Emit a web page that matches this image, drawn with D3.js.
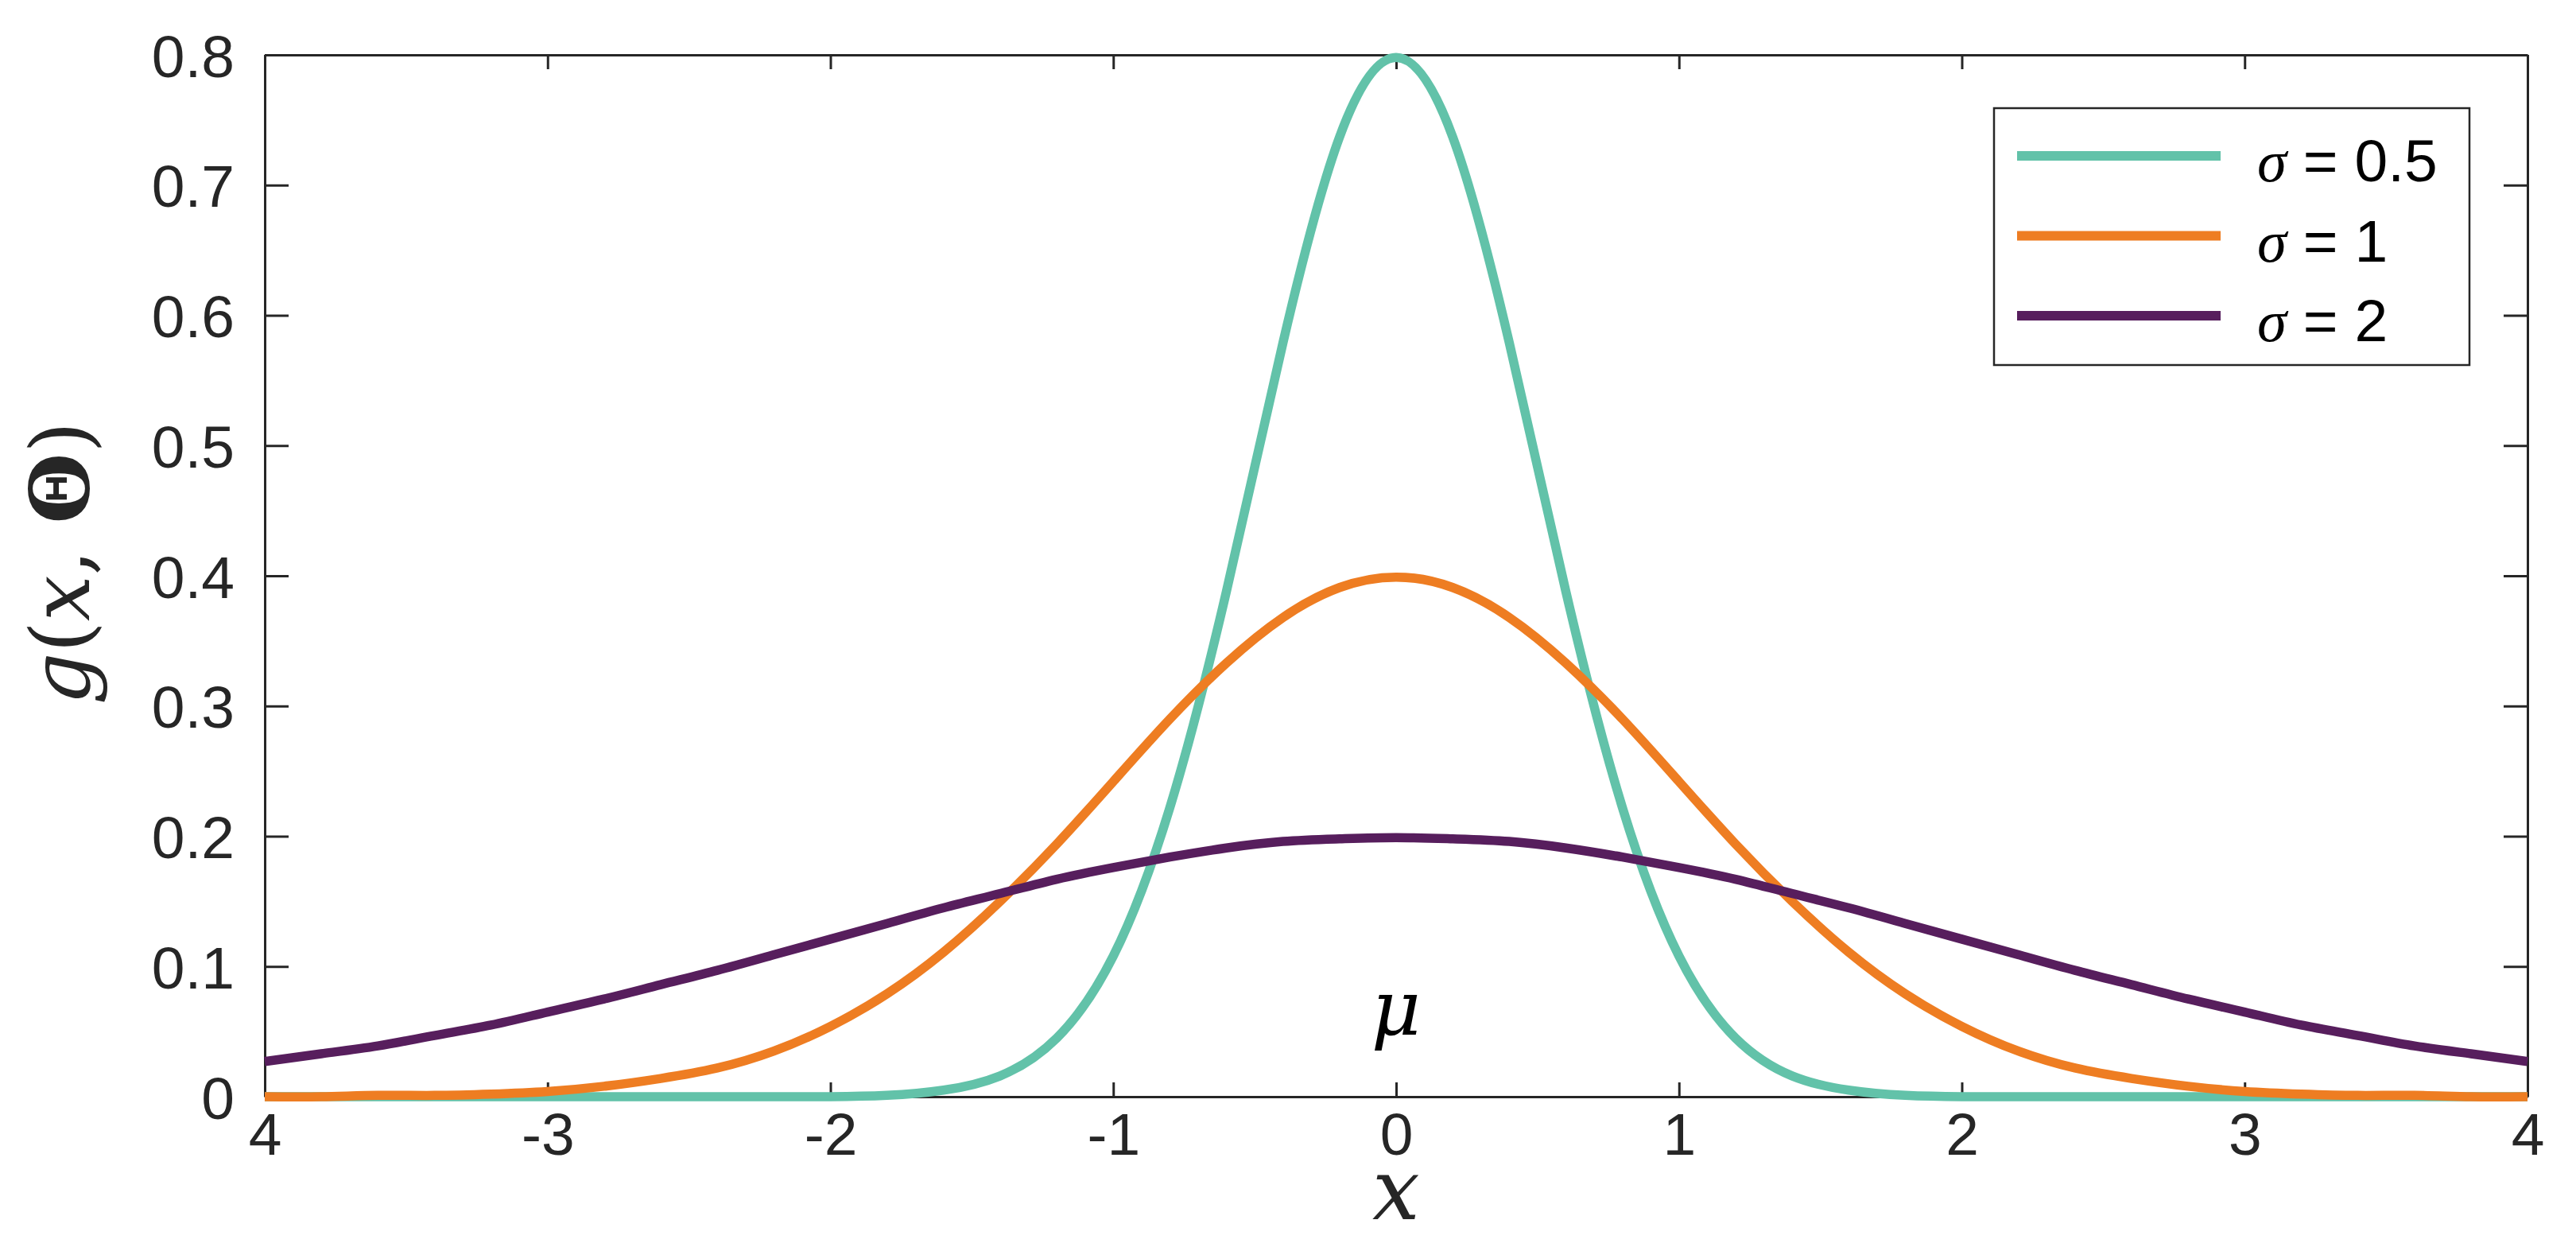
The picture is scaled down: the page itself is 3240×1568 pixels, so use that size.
<!DOCTYPE html>
<html>
<head>
<meta charset="utf-8">
<script src="https://cdn.jsdelivr.net/npm/d3@7"></script>
<style>
  body { margin: 0; background: #fff; }
  svg { display: block; }
</style>
</head>
<body>
<div id="chart"></div>
<script>
let width = 3240
let height = 1568
let margin = {left: 333, right: 61, top: 69, bottom: 189}

const xs = [-4, -3.8, -3.6, -3.4, -3.2, -3, -2.8, -2.6, -2.4, -2.2, -2, -1.8, -1.6, -1.4, -1.2, -1, -0.8, -0.6, -0.4, -0.2,
  0, 0.2, 0.4, 0.6, 0.8, 1, 1.2, 1.4, 1.6, 1.8, 2, 2.2, 2.4, 2.6, 2.8, 3, 3.2, 3.4, 3.6, 3.8, 4]

const sigmaHalf = [0, 0, 0, 0, 0, 0, 0, 0, 0, 0, 0, 0.001, 0.005, 0.016, 0.045, 0.108, 0.222, 0.388, 0.579, 0.737,
  0.798, 0.737, 0.579, 0.388, 0.222, 0.108, 0.045, 0.016, 0.005, 0.001, 0, 0, 0, 0, 0, 0, 0, 0, 0, 0, 0]

const sigmaOne = [0, 0, 0.001, 0.001, 0.002, 0.004, 0.008, 0.014, 0.022, 0.035, 0.054, 0.079, 0.111, 0.150, 0.194, 0.242, 0.290, 0.333, 0.368, 0.391,
  0.399, 0.391, 0.368, 0.333, 0.290, 0.242, 0.194, 0.150, 0.111, 0.079, 0.054, 0.035, 0.022, 0.014, 0.008, 0.004, 0.002, 0.001, 0.001, 0, 0]

const sigmaTwo = [0.027, 0.033, 0.039, 0.047, 0.055, 0.065, 0.075, 0.086, 0.097, 0.109, 0.121, 0.133, 0.145, 0.156, 0.167, 0.176, 0.184, 0.191, 0.196, 0.198,
  0.199, 0.198, 0.196, 0.191, 0.184, 0.176, 0.167, 0.156, 0.145, 0.133, 0.121, 0.109, 0.097, 0.086, 0.075, 0.065, 0.055, 0.047, 0.039, 0.033, 0.027]

const seriesLabels = ['0.5', '1', '2']
const seriesColors = ['#62c2a9', '#ee7d22', '#571e5d']

const xTicks = [-4, -3, -2, -1, 0, 1, 2, 3, 4]
const xTickLabels = ['4', '-3', '-2', '-1', '0', '1', '2', '3', '4']
const yTicks = [0, 0.1, 0.2, 0.3, 0.4, 0.5, 0.6, 0.7, 0.8]
const yTickLabels = ['0', '0.1', '0.2', '0.3', '0.4', '0.5', '0.6', '0.7', '0.8']

const series = [sigmaHalf, sigmaOne, sigmaTwo].map((vals, i) => ({
    label: seriesLabels[i],
    color: seriesColors[i],
    points: xs.map((x, j) => [x, vals[j]])
}))

let axisColor = '#262626'
let tickFont = '"Liberation Sans", Arial, Helvetica, sans-serif'
let mathFont = '"Liberation Serif", "Times New Roman", serif'
let labelFont = '"DejaVu Serif", "Liberation Serif", serif'

let svg = d3.select('#chart')
    .append('svg')
    .attr('width', width)
    .attr('height', height)

let plotW = width - margin.left - margin.right
let plotH = height - margin.top - margin.bottom

let xScale = d3.scaleLinear().domain([-4, 4]).range([0, plotW])
let yScale = d3.scaleLinear().domain([0, 0.8]).range([plotH, 0])

let g = svg.append('g')
    .attr('transform', 'translate(' + margin.left + ',' + margin.top + ')')

// axes (box style, ticks pointing inward)
g.append('g')
    .attr('transform', 'translate(0,' + plotH + ')')
    .call(d3.axisBottom(xScale)
        .tickValues(xTicks)
        .tickFormat((d, i) => xTickLabels[i])
        .tickSizeInner(-18)
        .tickSizeOuter(0)
        .tickPadding(20))

let yAxis = g.append('g')
    .call(d3.axisLeft(yScale)
        .tickValues(yTicks)
        .tickFormat((d, i) => yTickLabels[i])
        .tickSizeInner(-30)
        .tickSizeOuter(0)
        .tickPadding(38))

g.append('g')
    .call(d3.axisTop(xScale)
        .tickValues(xTicks)
        .tickFormat('')
        .tickSizeInner(-18)
        .tickSizeOuter(0))

g.append('g')
    .attr('transform', 'translate(' + plotW + ',0)')
    .call(d3.axisRight(yScale)
        .tickValues(yTicks)
        .tickFormat('')
        .tickSizeInner(-30)
        .tickSizeOuter(0))

g.selectAll('.domain, .tick line')
    .attr('stroke', axisColor)
    .attr('stroke-width', 3)

g.selectAll('.tick text')
    .attr('fill', axisColor)
    .style('font-family', tickFont)
    .style('font-size', '75px')

yAxis.selectAll('.tick text').attr('dy', '0.36em')

// curves
let line = d3.line()
    .x(d => xScale(d[0]))
    .y(d => yScale(d[1]))
    .curve(d3.curveNatural)

g.selectAll('.curve')
    .data(series)
    .enter()
    .append('path')
    .attr('class', 'curve')
    .attr('d', d => line(d.points))
    .attr('fill', 'none')
    .attr('stroke', d => d.color)
    .attr('stroke-width', 11.5)
    .attr('stroke-linejoin', 'round')

// mu label at the mean
g.append('text')
    .attr('x', xScale(0))
    .attr('y', plotH - 78)
    .attr('text-anchor', 'middle')
    .style('font-family', labelFont)
    .style('font-style', 'italic')
    .style('font-size', '96px')
    .attr('fill', '#000')
    .text('μ')

// axis labels
svg.append('text')
    .attr('x', margin.left + xScale(0))
    .attr('y', 1533)
    .attr('text-anchor', 'middle')
    .style('font-family', labelFont)
    .style('font-style', 'italic')
    .style('font-size', '106px')
    .attr('fill', axisColor)
    .text('x')

let yLabel = svg.append('text')
    .attr('transform', 'translate(112,708) rotate(-90)')
    .attr('text-anchor', 'middle')
    .style('font-family', labelFont)
    .style('font-size', '102px')
    .attr('fill', axisColor)

yLabel.append('tspan').style('font-style', 'italic').text('g')
yLabel.append('tspan').text('(')
yLabel.append('tspan').style('font-style', 'italic').text('x')
yLabel.append('tspan').text(', ')
yLabel.append('tspan').style('font-weight', 'bold').text('Θ')
yLabel.append('tspan').text(')')

// legend
let legend = svg.append('g')

legend.append('rect')
    .attr('x', 2508)
    .attr('y', 136)
    .attr('width', 598)
    .attr('height', 323)
    .attr('fill', '#fff')
    .attr('stroke', axisColor)
    .attr('stroke-width', 2.5)

let rows = legend.selectAll('.row')
    .data(series)
    .enter()
    .append('g')
    .attr('class', 'row')
    .attr('transform', (d, i) => 'translate(2537,' + (196 + i * 100.5) + ')')

rows.append('line')
    .attr('x1', 0)
    .attr('x2', 256)
    .attr('stroke', d => d.color)
    .attr('stroke-width', 12)

let rowText = rows.append('text')
    .attr('x', 302)
    .attr('y', 32)
    .attr('fill', '#000')
    .style('font-size', '75px')

rowText.append('tspan')
    .style('font-family', mathFont)
    .style('font-style', 'italic')
    .text('σ')

rowText.append('tspan')
    .style('font-family', tickFont)
    .text(d => ' = ' + d.label)
</script>
</body>
</html>
